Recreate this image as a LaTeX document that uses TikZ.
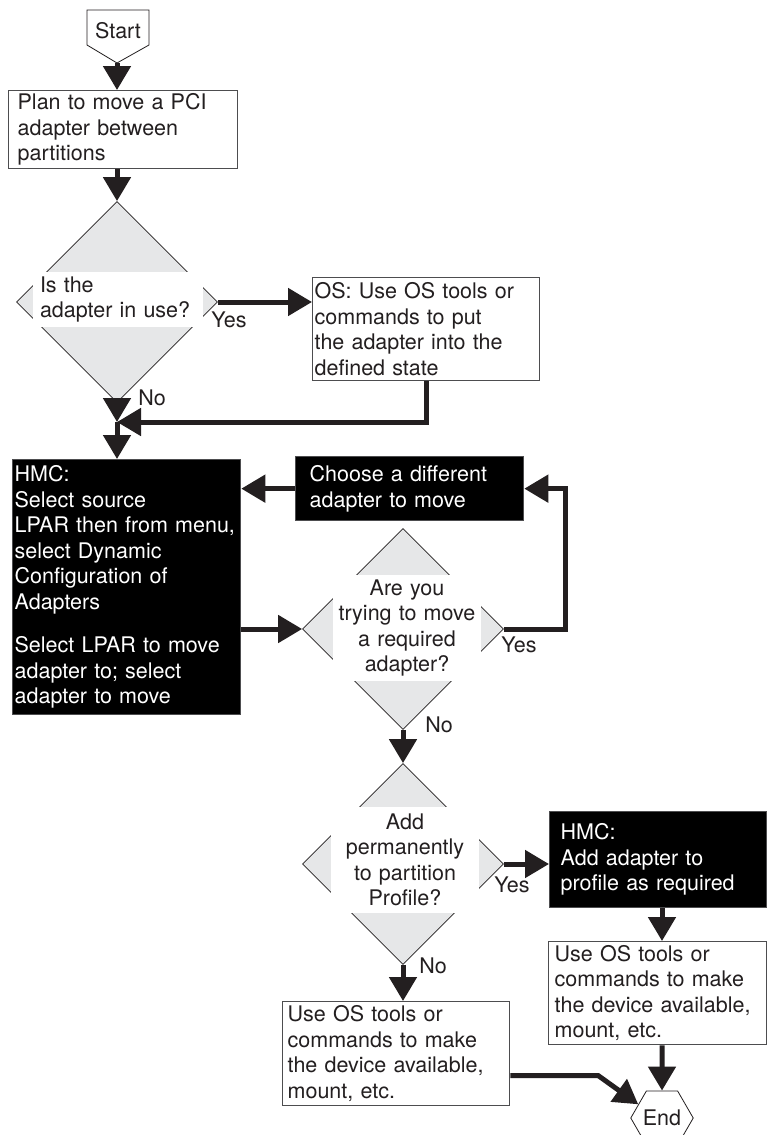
\documentclass[tikz,border=0pt]{standalone}
\usepackage{fontspec}
\setmainfont{TeX Gyre Heros}
\usepackage{tikz}
\usetikzlibrary{shapes.geometric,arrows.meta}
\definecolor{ink}{HTML}{231F20}
\definecolor{diagray}{HTML}{E6E7E8}
\definecolor{edgegray}{HTML}{4D4D4F}

\begin{document}
\begin{tikzpicture}[x=1pt,y=-1pt,
    font=\fontsize{21.5}{25.5}\selectfont,
    box/.style={draw=edgegray, line width=1.3pt, fill=white, text=ink, align=left, anchor=north west, inner ysep=0pt},
    darkbox/.style={box, fill=black, text=white},
    decision/.style={diamond, draw=ink, line width=0.8pt, fill=diagray, minimum width=201pt, minimum height=201pt, inner sep=0pt},
    qtext/.style={fill=white, text=ink, inner sep=0pt, align=center},
    arrow/.style={draw=ink, line width=5pt, -{Triangle[width=27pt,length=24pt]}},
    lbl/.style={text=ink}]
             \useasboundingbox (0,0) rectangle (768,1135);
             \fill[white] (0,0) rectangle (768,1135);

             % start
             \draw[draw=ink, line width=0.8pt, fill=white] (87,10) -- (149,10) -- (149,45) -- (117,63) -- (87,45) -- cycle;
             \node[text=ink] (start) at (118,31) {Start};
             \coordinate (starttip) at (117,63);

             \node[box, text width=211pt, inner xsep=9pt, minimum height=78pt] (plan) at (8,90) {Plan to move a PCI\\adapter between\\partitions};

             % first question
             \node[decision] (d1) at (117,302) {};
             \node[qtext, text width=156pt, inner xsep=7pt, minimum height=55pt, align=left] (q1) at (118,299.5) {Is the\\adapter in use?};
             \node[box, text width=223pt, inner xsep=2pt, minimum height=103pt] (os) at (312,277) {OS: Use OS tools or\\commands to put\\the adapter into the\\defined state};
             \coordinate (join) at (117,422);

             \node[darkbox, text width=224pt, inner xsep=2pt, minimum height=255pt] (hmc) at (12,459) {HMC:\\Select source\\LPAR then from menu,\\select Dynamic\\Configuration of\\Adapters\\[18pt]Select LPAR to move\\adapter to; select\\adapter to move};
             \node[darkbox, text width=200pt, inner xsep=14pt, minimum height=64pt] (choose) at (295,456) {Choose a different\\adapter to move};

             % second question
             \node[decision] (d2) at (403,629) {};
             \node[qtext, text width=148pt, minimum height=106pt] (q2) at (407,628) {Are you\\trying to move\\a required\\adapter?};

             % third question
             \node[decision] (d3) at (403,864) {};
             \node[qtext, text width=148pt, minimum height=106pt] (q3) at (405,860) {Add\\permanently\\to partition\\Profile?};
             \node[darkbox, text width=195pt, inner xsep=11pt, minimum height=96pt] (hmc2) at (549,811) {HMC:\\Add adapter to\\profile as required};
             \node[box, text width=206pt, inner xsep=6pt, minimum height=103pt] (os2) at (548,941) {Use OS tools or\\commands to make\\the device available,\\mount, etc.};
             \node[box, text width=217pt, inner xsep=5pt, minimum height=104pt] (os3) at (282,1001) {Use OS tools or\\commands to make\\the device available,\\mount, etc.};

             \node[regular polygon, regular polygon sides=6, minimum size=62pt, inner sep=0pt, draw=ink, line width=0.8pt, fill=white, text=ink] (end) at (662,1118) {End};

             \node[lbl] (y1) at (229,320) {Yes};
             \node[lbl] (n1) at (152,398) {No};
             \node[lbl] (y2) at (519,645) {Yes};
             \node[lbl] (n2) at (439,725) {No};
             \node[lbl] (y3) at (512,885) {Yes};
             \node[lbl] (n3) at (433,966) {No};

             % connectors
             \draw[arrow] (starttip) -- (plan.north -| starttip);
             \draw[arrow] (d1.north |- plan.south) -- (d1.north);
             \draw[arrow] (d1.east) -- (d1.east -| os.west);
             \draw[arrow] (d1.south) -- (join);
             \draw[arrow] (os.south) |- (join);
             \draw[arrow] (join) -- (join |- hmc.north);
             \draw[arrow] (hmc.east |- d2.west) -- (d2.west);
             \draw[arrow] (d2.east) -- ++(62,0) |- (choose.east);
             \draw[arrow] (choose.west) -- (choose.west -| hmc.east);
             \draw[arrow] (d2.south) -- (d3.north);
             \draw[arrow] (d3.east) -- (d3.east -| hmc2.west);
             \draw[arrow] (d3.south) -- (d3.south |- os3.north);
             \draw[arrow] (end |- hmc2.south) -- (end |- os2.north);
             \draw[arrow] (os2.south -| end) -- (end.north);
             \draw[arrow] ([yshift=-22pt]os3.east) -- ++(88,0) -- (end.150);
             \end{tikzpicture}
\end{document}
